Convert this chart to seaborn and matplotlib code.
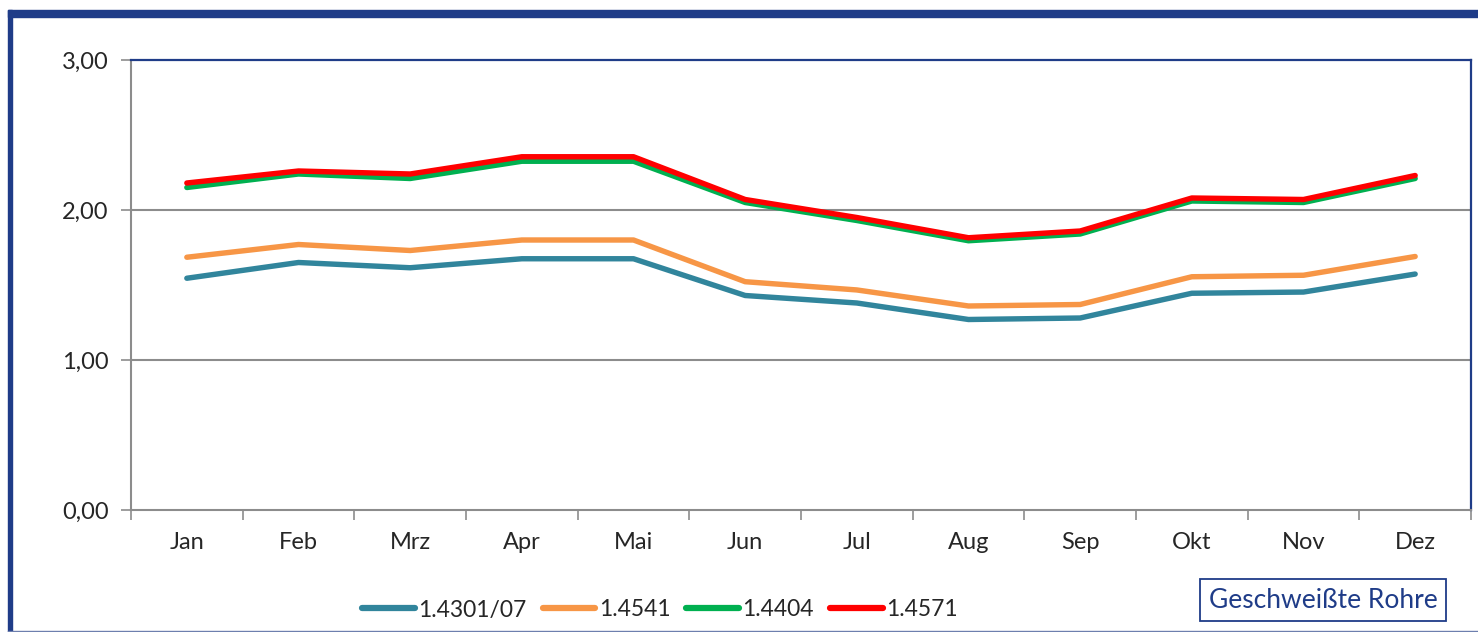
import numpy as np
import pandas as pd
import seaborn as sns
import matplotlib.pyplot as plt
from matplotlib.patches import Rectangle
from matplotlib.lines import Line2D

# data
months = ['Jan', 'Feb', 'Mrz', 'Apr', 'Mai', 'Jun', 'Jul', 'Aug', 'Sep', 'Okt', 'Nov', 'Dez']
s_14301 = [1.545, 1.65, 1.615, 1.675, 1.675, 1.43, 1.38, 1.27, 1.28, 1.445, 1.453, 1.573]
s_14541 = [1.685, 1.77, 1.73, 1.80, 1.80, 1.522, 1.467, 1.36, 1.37, 1.555, 1.565, 1.69]
s_14404 = [2.15, 2.24, 2.21, 2.325, 2.325, 2.05, 1.93, 1.795, 1.84, 2.06, 2.05, 2.21]
s_14571 = [2.18, 2.26, 2.24, 2.355, 2.355, 2.07, 1.95, 1.815, 1.86, 2.08, 2.07, 2.23]
series_names = ['1.4301/07', '1.4541', '1.4404', '1.4571']
colors = ['#31859C', '#F79646', '#00B050', '#FF0000']

frames = []
for name, vals in zip(series_names, [s_14301, s_14541, s_14404, s_14571]):
    frames.append(pd.DataFrame({'Monat': months, 'Wert': vals, 'Sorte': name}))
df = pd.concat(frames, ignore_index=True)

sns.set_style('white')
plt.rcParams['font.family'] = ['Lato', 'DejaVu Sans']

fig = plt.figure(figsize=(14.78, 6.32), dpi=100)
ax = fig.add_axes([131 / 1478, 1 - 510 / 632, 1340 / 1478, 450 / 632])

sns.lineplot(data=df, x='Monat', y='Wert', hue='Sorte', palette=colors,
             linewidth=3.9, sort=False, legend=False, ax=ax,
             solid_capstyle='round', solid_joinstyle='round')

ax.set_xlim(-0.5, 11.5)
ax.set_ylim(0, 3)
ax.set_yticks([0, 1, 2, 3])
ax.set_yticklabels(['0,00', '1,00', '2,00', '3,00'])
ax.set_xticks(range(12))
ax.set_xticklabels(months)
ax.set_xticks(np.arange(-0.5, 12, 1), minor=True)
ax.set_xlabel('')
ax.set_ylabel('')

grid_col = '#8C8C8C'
frame_col = '#1F3C88'
for y in [1, 2]:
    ax.axhline(y, color=grid_col, lw=1.5, zorder=0)

ax.spines['left'].set_color(grid_col)
ax.spines['bottom'].set_color(grid_col)
ax.spines['left'].set_linewidth(1.5)
ax.spines['bottom'].set_linewidth(1.5)
ax.spines['top'].set_color(frame_col)
ax.spines['right'].set_color(frame_col)
ax.spines['top'].set_linewidth(1.6)
ax.spines['right'].set_linewidth(1.6)

ax.tick_params(axis='y', which='major', direction='out', length=7, width=1.2,
               color=grid_col, labelsize=17, pad=9, left=True)
ax.tick_params(axis='x', which='major', length=0, labelsize=17, pad=16)
ax.tick_params(axis='x', which='minor', direction='out', length=7, width=1.2,
               color=grid_col, bottom=True)

# legend
handles = [Line2D([0], [0], color=c, lw=4.5, solid_capstyle='round') for c in colors]
fig.legend(handles, series_names, loc='center', bbox_to_anchor=(660 / 1478, 1 - 610 / 632),
           ncol=4, frameon=False, fontsize=16.5, handlelength=2.3, handletextpad=0.15,
           columnspacing=0.7)

# label box
fig.text(1323 / 1478, 1 - 600 / 632, 'Geschweißte Rohre', ha='center', va='center',
         fontsize=19, color=frame_col,
         bbox=dict(boxstyle='square,pad=0.32', fc='white', ec=frame_col, lw=1.3))

# outer frame of the slide
fig.patches.append(Rectangle((8 / 1478, 0), 4 / 1478, 1 - 10 / 632, transform=fig.transFigure,
                             color=frame_col, zorder=5))
fig.patches.append(Rectangle((8 / 1478, 1 - 16.5 / 632), 1 - 8 / 1478, 7 / 632,
                             transform=fig.transFigure, color=frame_col, zorder=5))
fig.patches.append(Rectangle((8 / 1478, 0), 1 - 8 / 1478, 1.5 / 632,
                             transform=fig.transFigure, color='#6D7FAE', zorder=5))

fig.savefig('out.png', dpi=100)
